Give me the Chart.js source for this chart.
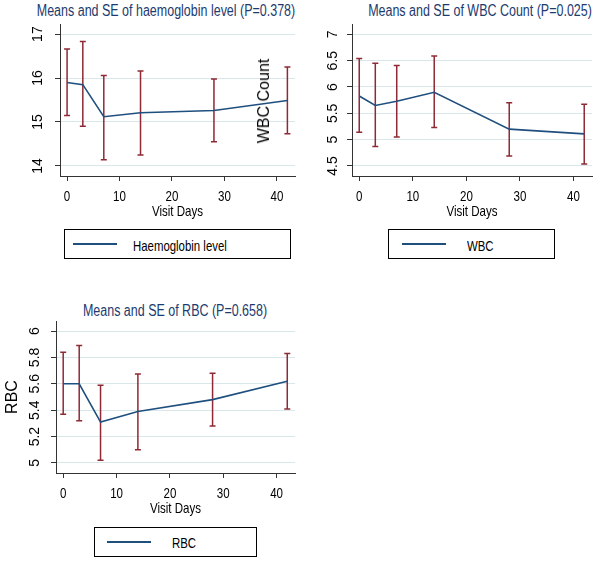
<!DOCTYPE html>
<html><head><meta charset="utf-8">
<script src="https://cdn.jsdelivr.net/npm/chart.js@4.4.0/dist/chart.umd.min.js"></script>
<style>
html,body{margin:0;padding:0;background:#fff;}
#wrap{position:relative;width:600px;height:569px;overflow:hidden;background:#fff;font-family:'Liberation Sans',Arial,sans-serif;}
.cv{position:absolute;}
.title{position:absolute;width:360px;text-align:center;font-size:16px;line-height:16px;color:#1c3b6e;white-space:nowrap;transform:scaleX(0.78);transform-origin:50% 50%;}
.lbox{position:absolute;border:1px solid #000;box-sizing:border-box;}
.lline{position:absolute;height:2px;background:#1f4f7f;}
.ltext{position:absolute;font-size:15px;line-height:15px;color:#000;white-space:nowrap;transform:scaleX(0.76);transform-origin:0 50%;}
.stray{position:absolute;font-size:16px;line-height:16px;color:#000;white-space:nowrap;transform:translate(-50%,-50%) rotate(-90deg);}
</style>
</head><body>
<div id="wrap">
  <div class="title" style="left:-14px;top:3px;">Means and SE of haemoglobin level (P=0.378)</div>
  <div class="title" style="left:300px;top:3px;">Means and SE of WBC Count (P=0.025)</div>
  <div class="title" style="left:-5px;top:303px;">Means and SE of RBC (P=0.658)</div>

  <canvas id="c1" class="cv" style="left:0;top:0;" width="300" height="225"></canvas>
  <canvas id="c2" class="cv" style="left:300px;top:0;" width="300" height="225"></canvas>
  <canvas id="c3" class="cv" style="left:0;top:297px;" width="300" height="225"></canvas>

  <div class="stray" style="left:264px;top:101px;">WBC Count</div>

  <div class="lbox" style="left:64px;top:229px;width:227px;height:30px;"></div>
  <div class="lline" style="left:73px;top:243px;width:44px;"></div>
  <div class="ltext" style="left:133px;top:238px;">Haemoglobin level</div>

  <div class="lbox" style="left:388px;top:229px;width:167px;height:30px;"></div>
  <div class="lline" style="left:402px;top:243px;width:44px;"></div>
  <div class="ltext" style="left:467px;top:238px;">WBC</div>

  <div class="lbox" style="left:94px;top:527px;width:163px;height:30px;"></div>
  <div class="lline" style="left:107px;top:541px;width:44px;"></div>
  <div class="ltext" style="left:172px;top:535px;">RBC</div>
</div>
<script>
// ---------- data ----------
const visitDays = [0, 3, 7, 14, 28, 42];
const xTicks = [0, 10, 20, 30, 40];
const xTitle = 'Visit Days';

const hbMean  = [15.90, 15.85, 15.12, 15.21, 15.26, 15.49];
const hbUpper = [16.66, 16.83, 16.06, 16.16, 15.98, 16.25];
const hbLower = [15.15, 14.90, 14.14, 14.25, 14.55, 14.73];
const hbTicks = [14, 15, 16, 17];

const wbcMean  = [5.83, 5.65, 5.73, 5.90, 5.20, 5.11];
const wbcUpper = [6.54, 6.45, 6.41, 6.59, 5.70, 5.67];
const wbcLower = [5.14, 4.87, 5.05, 5.23, 4.69, 4.54];
const wbcTicks = [4.5, 5, 5.5, 6, 6.5, 7];

const rbcMean  = [5.60, 5.60, 5.31, 5.39, 5.48, 5.62];
const rbcUpper = [5.84, 5.89, 5.59, 5.675, 5.68, 5.83];
const rbcLower = [5.37, 5.32, 5.02, 5.10, 5.28, 5.41];
const rbcTicks = [5, 5.2, 5.4, 5.6, 5.8, 6];

// ---------- styling ----------
const REG = "'Liberation Sans',Arial,sans-serif";
const LINE_COLOR = '#1f4f7f';
const BAR_COLOR = '#8e2a35';
const GRID_COLOR = '#d9e6ea';
const AXIS_COLOR = '#333333';
const SQUEEZE = 0.77;

const errBarPlugin = {
  id: 'errBars',
  beforeDatasetsDraw(chart, args, o) {
    const {ctx} = chart; const xs = chart.scales.x, ys = chart.scales.y;
    ctx.save();
    ctx.strokeStyle = o.color; ctx.lineWidth = o.width;
    o.xs.forEach((d, i) => {
      const px = xs.getPixelForValue(d);
      const pt = ys.getPixelForValue(o.hi[i]);
      const pb = ys.getPixelForValue(o.lo[i]);
      ctx.beginPath();
      ctx.moveTo(px, pt); ctx.lineTo(px, pb);
      ctx.moveTo(px - o.cap, pt); ctx.lineTo(px + o.cap, pt);
      ctx.moveTo(px - o.cap, pb); ctx.lineTo(px + o.cap, pb);
      ctx.stroke();
    });
    ctx.restore();
  }
};

// Stata-style axis text: rotated y tick labels, condensed x tick labels and x title
const axisText = {
  id: 'axisText',
  afterDraw(chart, args, o) {
    const ys = chart.scales.y, xs = chart.scales.x, ctx = chart.ctx, ca = chart.chartArea;
    ctx.save();
    ctx.fillStyle = '#000';
    ctx.font = o.ySize + 'px ' + REG;
    ctx.textAlign = 'center'; ctx.textBaseline = 'middle';
    ys.ticks.forEach(t => {
      const y = ys.getPixelForValue(t.value);
      ctx.save();
      ctx.translate(ca.left - o.yOffset, y);
      ctx.rotate(-Math.PI / 2);
      ctx.fillText(String(t.value), 0, 0);
      ctx.restore();
    });
    ctx.font = o.xSize + 'px ' + REG;
    ctx.textAlign = 'center'; ctx.textBaseline = 'alphabetic';
    xs.ticks.forEach(t => {
      const x = xs.getPixelForValue(t.value);
      ctx.save();
      ctx.translate(x, ca.bottom + o.xLabelBase);
      ctx.scale(SQUEEZE, 1);
      ctx.fillText(String(t.value), 0, 0);
      ctx.restore();
    });
    ctx.save();
    ctx.translate((ca.left + ca.right) / 2, ca.bottom + o.xTitleBase);
    ctx.scale(SQUEEZE, 1);
    ctx.fillText(o.xTitle, 0, 0);
    ctx.restore();
    ctx.restore();
  }
};

function makeChart(id, cfg) {
  return new Chart(document.getElementById(id), {
    type: 'line',
    data: {
      datasets: [{
        label: cfg.label,
        data: visitDays.map((d, i) => ({x: d, y: cfg.mean[i]})),
        borderColor: LINE_COLOR, borderWidth: 1.6, pointRadius: 0, tension: 0, fill: false
      }]
    },
    options: {
      responsive: false, animation: false, devicePixelRatio: 1,
      layout: {padding: {left: 0, right: cfg.padRight, top: 24, bottom: 0}},
      plugins: {
        legend: {display: false}, tooltip: {enabled: false}, title: {display: false},
        errBars: {xs: visitDays, hi: cfg.hi, lo: cfg.lo, color: BAR_COLOR, width: 1.5, cap: 3},
        axisText: {ySize: 14, yOffset: cfg.yOffset, xSize: 15, xLabelBase: 25, xTitleBase: 40, xTitle: xTitle}
      },
      scales: {
        x: {
          type: 'linear', min: -1.35, max: 43.45,
          afterBuildTicks: s => { s.ticks = xTicks.map(v => ({value: v})); },
          afterFit: s => { s.height = 49; },
          grid: {drawOnChartArea: false, drawTicks: true, tickLength: 5, color: AXIS_COLOR, tickColor: AXIS_COLOR},
          border: {display: true, color: AXIS_COLOR, width: 1},
          ticks: {display: false}
        },
        y: {
          type: 'linear', min: cfg.yMin, max: cfg.yMax,
          afterBuildTicks: s => { s.ticks = cfg.yTicks.map(v => ({value: v})); },
          afterFit: s => { s.width = cfg.yWidth; },
          grid: {color: GRID_COLOR, tickColor: AXIS_COLOR, tickLength: 5, drawTicks: true, lineWidth: 1},
          border: {display: true, color: AXIS_COLOR, width: 1},
          ticks: {display: false},
          title: cfg.yTitle ? {display: true, text: cfg.yTitle, font: {family: REG, size: 16}, color: '#000', padding: {top: 3, bottom: 0}} : {display: false}
        }
      }
    },
    plugins: [errBarPlugin, axisText]
  });
}

makeChart('c1', {label: 'Haemoglobin level', mean: hbMean, hi: hbUpper, lo: hbLower, yTicks: hbTicks,
  yMin: 13.77, yMax: 17.23, yWidth: 60, padRight: 5, yOffset: 22});
makeChart('c2', {label: 'WBC', mean: wbcMean, hi: wbcUpper, lo: wbcLower, yTicks: wbcTicks,
  yMin: 4.31, yMax: 7.196, yWidth: 52, padRight: 8, yOffset: 19});
makeChart('c3', {label: 'RBC', mean: rbcMean, hi: rbcUpper, lo: rbcLower, yTicks: rbcTicks,
  yMin: 4.924, yMax: 6.076, yWidth: 56, padRight: 5, yOffset: 21, yTitle: 'RBC'});
</script>
</body></html>
